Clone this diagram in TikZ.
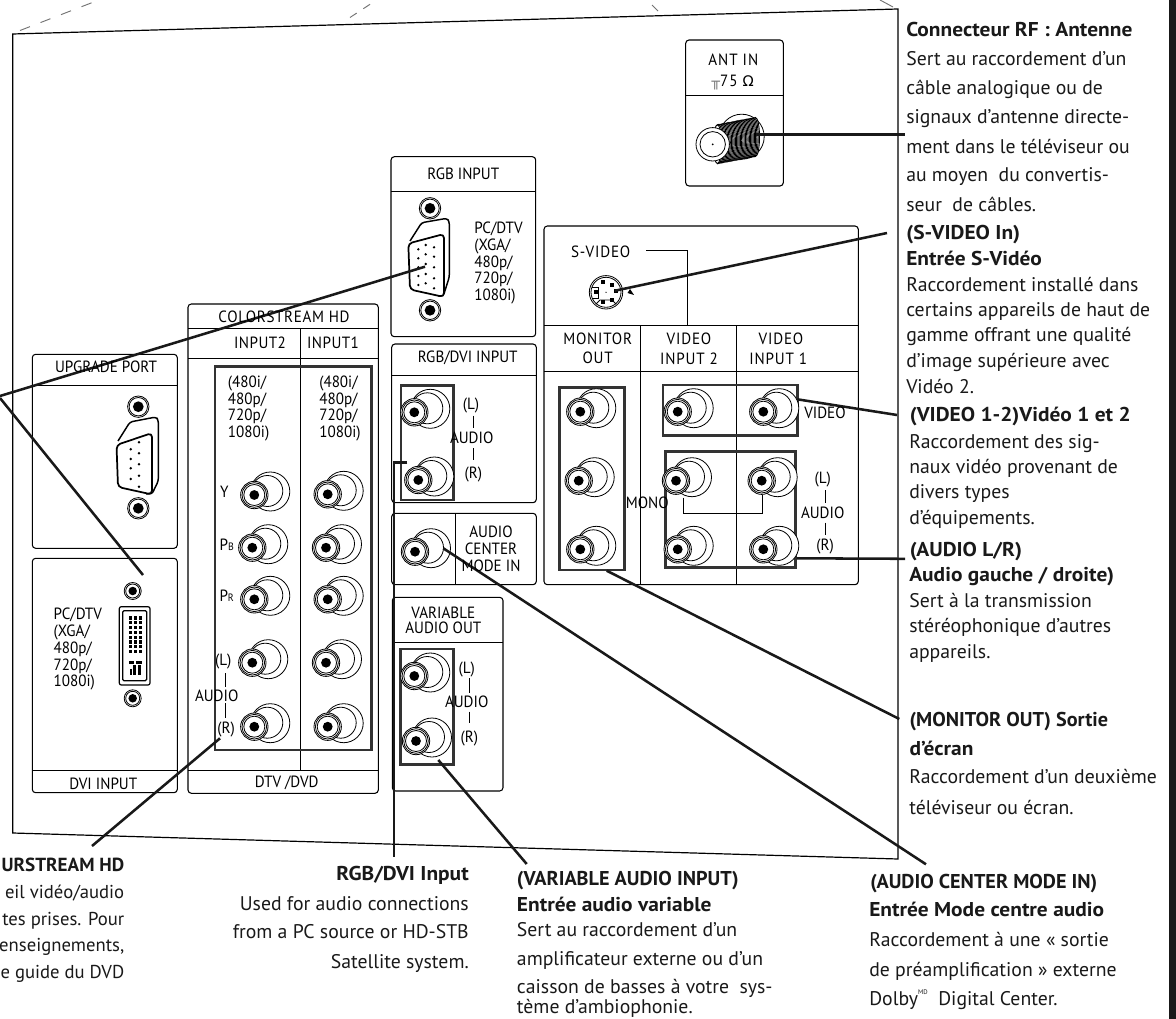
\documentclass[tikz,border=0pt]{standalone}
\usepackage{fontspec}
\setmainfont{PT Sans}
\newfontfamily\labff[FakeStretch=0.93]{PT Sans}
\newfontfamily\boldff[FakeStretch=1.07,BoldFont={PT Sans Bold}]{PT Sans}
\newfontfamily\boldcf[FakeStretch=1.01,BoldFont={PT Sans Bold}]{PT Sans}
\newfontfamily\symf{DejaVu Sans}
\newcommand\bodyfont{\fontsize{14.8}{16}\selectfont}
\newcommand\boldfont{\boldff\fontsize{15}{16}\selectfont\bfseries}
\newcommand\boldcaps{\boldcf\fontsize{15}{16}\selectfont\bfseries}
\newcommand\labfont{\labff\fontsize{12.2}{14}\selectfont}
\tikzset{
  panel/.style={draw=black,line width=0.8pt,rounded corners=2.5pt},
  thin/.style={draw=black,line width=0.75pt},
  thick box/.style={draw=black!80,line width=2pt},
  leader/.style={draw=black!90,line width=1.9pt},
  body/.style={anchor=base west,inner sep=0pt,font=\bodyfont,text=black!90},
  bodyr/.style={anchor=base east,inner sep=0pt,font=\bodyfont,text=black!90},
  bodyn/.style={anchor=base east,inner sep=0pt,font=\fontsize{14}{16}\selectfont,text=black!90},
  bold/.style={anchor=base west,inner sep=0pt,font=\boldfont,text=black!90},
  boldc/.style={anchor=base west,inner sep=0pt,font=\boldcaps,text=black!90},
  boldr/.style={anchor=base east,inner sep=0pt,font=\boldfont,text=black!90},
  boldn/.style={anchor=base east,inner sep=0pt,font=\boldcf\fontsize{14.2}{16}\selectfont\bfseries,text=black!90},
  lab/.style={anchor=center,inner sep=0pt,font=\labfont,text=black},
  labl/.style={anchor=base west,inner sep=0pt,font=\labfont,text=black},
  ring/.style={draw=black,line width=0.6pt,fill=white},
}
\newcommand\rca[2]{%
  \begin{scope}[shift={(#1,#2)}]
    \draw[ring] (16,-3.5) circle [radius=19.5];
    \draw[ring] (13,-4) circle [radius=15.5];
    \draw[ring] (0,0) circle [radius=13.7];
    \draw[ring] (0,0) circle [radius=12.3];
    \draw[ring] (0,0) circle [radius=10.5];
    \fill[black] (0,0) circle [radius=4.9];
  \end{scope}}
\newcommand\screw[3]{%
  \draw[ring] (#1,#2) circle [radius=#3];
  \draw[ring] (#1,#2) circle [radius=#3-1.5];
  \fill[black] (#1,#2) circle [radius=#3*0.5];}
\begin{document}
\begin{tikzpicture}[x=0.75pt,y=-0.75pt]
\useasboundingbox (0,0) rectangle (1176,1019);
\fill[white] (0,0) rectangle (1176,1019);
% black bar
\fill[black!90] (1168.5,0) rectangle (1176,1019);
% main panel
\draw[draw=black,line width=0.9pt] (12.7,34) -- (898,9) -- (898,859) -- (12.7,833) -- cycle;
% perspective dashes
\draw[draw=black!55,line width=0.7pt,dash pattern=on 8pt off 8.5pt] (20,30.5) -- (95,1.5);
\draw[draw=black!55,line width=0.7pt,dash pattern=on 6pt off 6pt] (350,17.5) -- (372,3);
\draw[draw=black!55,line width=0.7pt] (652,5) -- (658,11);
\draw[draw=black!55,line width=0.7pt] (880,0) -- (893,7);

% ---- ANT panel
\draw[panel] (685.7,40) rectangle (783.3,186);
\draw[thin] (685.7,96) -- (783.3,96);
\draw[ring] (741.7,136.7) circle [radius=22.5];
\foreach \i in {0,...,30}{
  \pgfmathsetmacro\cx{755.5-\i*1.27}
  \pgfmathsetmacro\cy{137+\i*0.24}
  \draw[draw=black,line width=0.7pt,fill=white] (\cx,\cy) ellipse [x radius=4,y radius=19.5];
}
\draw[ring] (712.7,144.3) circle [radius=16.7];
\draw[ring] (712.7,144.3) circle [radius=12.7];
\fill[black] (712.7,144.3) circle [radius=1];

% ---- UPGRADE panel
\draw[panel] (32.3,354.3) rectangle (177.3,548.3);
\draw[thin] (32.3,385) -- (177.3,385);
\screw{138.3}{406.7}{10.7}
\screw{138.3}{508.3}{10.7}
\draw[draw=black,line width=1.1pt,line join=round,rounded corners=2pt,fill=white]
  (118,441) -- (130,422) -- (156,417) -- (158.3,420) -- (158.3,481) -- (152,494) -- (146,494);
\draw[draw=black,line width=1.3pt,line join=round,rounded corners=3pt,fill=white]
  (116.5,445) -- (152,433) -- (152,494.5) -- (118,487) -- cycle;
\foreach \y in {442.3,453.3,464.3,475.7,486.7}{\fill[black] (139,\y) circle [radius=1.4];}
\foreach \y in {449.3,459,468.3,479}{\fill[black] (130.7,\y) circle [radius=1.4];}

% ---- DVI panel
\draw[panel] (32.3,558.3) rectangle (177.3,792.7);
\draw[thin] (32.3,770.3) -- (177.3,770.3);
\screw{132.7}{591}{8.5}
\screw{132.7}{698.3}{8.5}
\draw[draw=black,line width=0.9pt,rounded corners=1.5pt] (119.3,606.7) rectangle (150,685);
\draw[draw=black,line width=0.9pt,rounded corners=1pt] (122.7,610.7) rectangle (146.7,680.7);
\foreach \x in {130.7,135.7,140.3}{
  \foreach \y in {618,622.8,627.6,632.4,637.2,642,646.8,651.6}{
    \fill[black] (\x-1.6,\y-1.6) rectangle (\x+1.6,\y+1.6);}}
\fill[black] (129.3,661) rectangle (134,663.5);
\fill[black] (135.5,661) rectangle (142,663.5);
\fill[black] (133,665) rectangle (136,675);
\fill[black] (138,665) rectangle (141,675);
\fill[black] (130,669) rectangle (132,675);

% ---- COLORSTREAM panel
\draw[panel] (188,304) rectangle (378.3,793.3);
\draw[thin] (188,328.3) -- (378.3,328.3);
\draw[thin] (188,358.3) -- (378.3,358.3);
\draw[thin] (188,770.3) -- (378.3,770.3);
\draw[thin] (300,328.3) -- (300,770.3);
\draw[thick box] (215,366.7) rectangle (371.7,750);
\rca{254.3}{495}\rca{252.3}{547.7}\rca{254.3}{599.3}\rca{252.3}{662.7}\rca{254.3}{726.7}
\rca{327.7}{494.3}\rca{326}{547.7}\rca{327.7}{599.3}\rca{326}{662.7}\rca{327.7}{726.7}

% ---- RGB INPUT
\draw[panel] (391,156.7) rectangle (535.7,336.7);
\draw[thin] (391,191.7) -- (535.7,191.7);
\screw{430}{208.3}{10.7}
\screw{430}{310.3}{10.7}
\draw[draw=black,line width=1.1pt,line join=round,rounded corners=2pt,fill=white]
  (410,241) -- (421.7,222.7) -- (447,218.3) -- (449.3,221.7) -- (449.3,277) -- (443.3,296) -- (438,296);
\draw[draw=black,line width=1.3pt,line join=round,rounded corners=3pt,fill=white]
  (408.3,243.5) -- (444,234) -- (444,297) -- (410,289.5) -- cycle;
\foreach \p in {(418.3,249.3),(418.3,258.3),(418.3,267.3),(418.3,276),(418.3,285),
                (425.7,245),(425.7,254.3),(425.7,264),(425.7,274),(425.7,283.3),
                (434,247.3),(434,256.7),(434,267.3),(434,278.3),(434,288.3)}{
  \fill[black] \p circle [radius=1.3];}

% ---- RGB/DVI
\draw[panel] (391.7,344) rectangle (536.3,502.7);
\draw[thin] (391.7,375.7) -- (536.3,375.7);
\draw[thick box] (401,385.3) rectangle (453.3,500);
\rca{414.3}{412.3}\rca{418.3}{480}

% ---- AUDIO CENTER
\draw[panel] (391.7,513.3) rectangle (536.3,584.7);
\draw[thin] (455.3,513.3) -- (455.3,584.7);
\rca{415}{551.7}

% ---- VARIABLE
\draw[panel] (392.3,597.3) rectangle (503,791);
\draw[thin] (392.3,642.7) -- (503,642.7);
\draw[thick box] (400.7,649) rectangle (453.3,764.3);
\rca{414.3}{676}\rca{416}{741}

% ---- AV panel
\draw[panel] (544,226) rectangle (858.3,584.7);
\draw[thin] (544,325.3) -- (858.3,325.3);
\draw[thin] (544,371.7) -- (858.3,371.7);
\draw[thin] (640.3,325.3) -- (640.3,584.7);
\draw[thin] (736,325.3) -- (736,584.7);
\draw[thick box] (559.7,387.3) rectangle (624.7,570);
\draw[thick box] (663,385) rectangle (797.3,435.3);
\draw[thick box] (665.7,451.7) rectangle (795.7,567.3);
\rca{580.3}{411.7}\rca{578.7}{480.7}\rca{580.3}{549.3}
\rca{677.7}{411.7}\rca{763.3}{411.7}
\rca{676}{480.7}\rca{761.7}{480.7}\rca{677.7}{549.3}\rca{763.3}{549.3}
\draw[thin] (683.7,497.7) -- (683.7,513.3) -- (762.7,513.3) -- (762.7,495);
\draw[thin] (646,251) -- (687.3,251) -- (687.3,325.3);
% S-video jack
\draw[ring] (606,292.3) circle [radius=16.7];
\draw[ring] (606,292.3) circle [radius=15];
\draw[draw=black,line width=0.6pt] (591.5,287) -- (598,287) -- (598,298) -- (592,298);
\draw[draw=black,line width=0.6pt] (596,304) -- (600,300) -- (612,300) -- (616,304);
\foreach \p in {(603.3,282),(612.3,285),(595.7,292),(616,291.3),(603.3,301.7),(612.3,300)}{
  \fill[black] \p ++(-2,-2) rectangle ++(4,4);}
\fill[black] (606,292.3) circle [radius=0.7];
\fill[black] (630,289) -- (634,295) -- (627.5,293) -- cycle;

% ---- leader end points
\coordinate (antA) at (756,134.3); \coordinate (antB) at (905,134.3);
\coordinate (rgbA) at (425,266.7); \coordinate (rgbB) at (0,396);
\coordinate (dviA) at (143,575); \coordinate (dviB) at (0,398);
\coordinate (svA) at (615,290.7); \coordinate (svB) at (887,233);
\coordinate (csA) at (220,738.3); \coordinate (csB) at (92,846);
\coordinate (rdA) at (407.3,462.3); \coordinate (rdK) at (394,462.3); \coordinate (rdB) at (394,856.7);
\coordinate (varA) at (438.3,760); \coordinate (varB) at (526.7,864);
\coordinate (acA) at (443.3,548.3); \coordinate (acB) at (926,864.3);
\coordinate (monA) at (606.7,570.7); \coordinate (monB) at (899.3,719);
\coordinate (vidA) at (797.3,399.3); \coordinate (vidB) at (897,415);
\coordinate (audA) at (796.7,558.3); \coordinate (audB) at (905,558.8);
\draw[leader] (antA) -- (antB);
\draw[leader] (rgbA) -- (rgbB);
\draw[leader] (dviA) -- (dviB);
\draw[leader] (svA) -- (svB);
\draw[leader] (csA) -- (csB);
\draw[leader] (rdA) -- (rdK) -- (rdB);
\draw[leader] (varA) -- (varB);
\draw[leader] (acA) -- (acB);
\draw[leader] (monA) -- (monB);
\draw[leader] (vidA) -- (vidB);
\draw[leader] (audA) -- (audB);

% ---- panel labels
\node[lab] (l1) at (733.3,60) {\addfontfeature{LetterSpace=6}ANT IN};
\node[lab] (l2) at (732.7,82.7) {{\symf\fontsize{10.5}{10}\selectfont\color{black!50}╥}\addfontfeature{LetterSpace=6}75 {\symf\fontsize{11}{10}\selectfont Ω}};
\node[lab] (l3) at (284,316.7) {\addfontfeature{LetterSpace=4}COLORSTREAM HD};
\node[lab] (l4) at (260,343) {\addfontfeature{LetterSpace=3}INPUT2};
\node[lab] (l5) at (333,343) {\addfontfeature{LetterSpace=3}INPUT1};
\node[lab] (l6) at (106,367.3) {UPGRADE PORT};
\node[lab] (l7) at (103.3,784) {DVI INPUT};
\node[lab] (l8) at (286.7,782.7) {DTV /DVD};
\node[lab] (l9) at (463.3,174.3) {RGB INPUT};
\node[lab] (l10) at (467.7,358.3) {RGB/DVI INPUT};
\node[lab] (l11) at (491,532.3) {AUDIO};
\node[lab] (l12) at (491,549) {CENTER};
\node[lab] (l13) at (491,565.7) {MODE IN};
\node[lab] (l14) at (443.3,612.7) {VARIABLE};
\node[lab] (l15) at (443.3,628.3) {AUDIO OUT};
\node[lab] (l16) at (600.7,251.7) {\addfontfeature{LetterSpace=5}S-VIDEO};
\node[lab] (l17) at (597.7,339.3) {\addfontfeature{LetterSpace=5}MONITOR};
\node[lab] (l18) at (597.7,358.3) {\addfontfeature{LetterSpace=5}OUT};
\node[lab] (l19) at (689,339.3) {\addfontfeature{LetterSpace=5}VIDEO};
\node[lab] (l20) at (689,358.3) {\addfontfeature{LetterSpace=5}INPUT 2};
\node[lab] (l21) at (781,339.3) {\addfontfeature{LetterSpace=5}VIDEO};
\node[lab] (l22) at (778.3,358.3) {\addfontfeature{LetterSpace=5}INPUT 1};
\node[lab] (l23) at (825,413.3) {VIDEO};
\node[lab] (l24) at (647.3,503.3) {MONO};
% format lists
\node[labl] (f1) at (227.7,387.7) {(480i/};
\node[labl] (f2) at (227.7,404.3) {480p/};
\node[labl] (f3) at (227.7,420.7) {720p/};
\node[labl] (f4) at (227.7,437.3) {1080i)};
\node[labl] (g1) at (319,387.7) {(480i/};
\node[labl] (g2) at (319,404.3) {480p/};
\node[labl] (g3) at (319,420.7) {720p/};
\node[labl] (g4) at (319,437.3) {1080i)};
\node[labl] (h1) at (53.3,619.3) {PC/DTV};
\node[labl] (h2) at (53.3,636) {(XGA/};
\node[labl] (h3) at (53.3,653.3) {480p/};
\node[labl] (h4) at (53.3,670) {720p/};
\node[labl] (h5) at (53.3,686) {1080i)};
\node[labl] (i1) at (474,234) {PC/DTV};
\node[labl] (i2) at (474,250.7) {(XGA/};
\node[labl] (i3) at (474,267.3) {480p/};
\node[labl] (i4) at (474,284) {720p/};
\node[labl] (i5) at (474,300.7) {1080i)};
% Y Pb Pr
\node[lab] (y1) at (224.3,491.7) {Y};
\node[lab] (y2) at (226.7,545) {P{\fontsize{8}{8}\selectfont B}};
\node[lab] (y3) at (226.7,596) {P{\fontsize{8}{8}\selectfont R}};
% audio groups
\node[lab] (a1) at (223.3,661) {(L)};
\draw[thin] (225,673.3) -- (225,686.7);
\node[lab] (a2) at (216.7,695.7) {AUDIO};
\draw[thin] (225,703.3) -- (225,718.3);
\node[lab] (a3) at (226,729.3) {(R)};
\node[lab] (b1) at (471,405.7) {(L)};
\draw[thin] (473.7,415.7) -- (473.7,428.3);
\node[lab] (b2) at (471.7,438.3) {AUDIO};
\draw[thin] (473.7,448.3) -- (473.7,460);
\node[lab] (b3) at (473.3,474) {(R)};
\node[lab] (c1) at (466.7,669.3) {(L)};
\draw[thin] (469.3,678.3) -- (469.3,693.3);
\node[lab] (c2) at (466.7,702.3) {AUDIO};
\draw[thin] (469.3,711.7) -- (469.3,723.3);
\node[lab] (c3) at (469.3,738.3) {(R)};
\node[lab] (d1) at (822.7,479.3) {(L)};
\draw[thin] (825,490) -- (825,503.3);
\node[lab] (d2) at (822.7,513.3) {AUDIO};
\draw[thin] (825,522.7) -- (825,535);
\node[lab] (d3) at (825,546.7) {(R)};

% ---- right column
\node[bold] (r1) at (906,36.7) {Connecteur RF : Antenne};
\node[body] (r2) at (906,66) {Sert au raccordement d’un};
\node[body] (r3) at (906,94.5) {câble analogique ou de};
\node[body] (r4) at (906,124) {signaux d’antenne directe-};
\node[body] (r5) at (906,153.3) {ment dans le téléviseur ou};
\node[body] (r6) at (906,181.7) {au moyen\ \ du convertis-};
\node[body] (r7) at (906,211.7) {seur\ \ de câbles.};
\node[bold] (r8) at (906,240) {(S-VIDEO In)};
\node[bold] (r9) at (906,265.7) {Entrée S-Vidéo};
\node[body] (r10) at (906,291.7) {Raccordement installé dans};
\node[body] (r11) at (906,316.7) {certains appareils de haut de};
\node[body] (r12) at (906,341.7) {gamme offrant une qualité};
\node[body] (r13) at (906,367.7) {d’image supérieure avec};
\node[body] (r14) at (906,393.3) {Vidéo 2.};
\node[bold] (r15) at (909.5,421.7) {(VIDEO 1-2)Vidéo 1 et 2};
\node[body] (r16) at (909,448.3) {Raccordement des sig-};
\node[body] (r17) at (909,473.3) {naux vidéo provenant de};
\node[body] (r18) at (909,498.3) {divers types};
\node[body] (r19) at (909,524) {d’équipements.};
\node[bold] (r20) at (909.5,556) {(AUDIO L/R)};
\node[bold] (r21) at (909,581.7) {Audio gauche / droite)};
\node[body] (r22) at (909,607.3) {Sert à la transmission};
\node[body] (r23) at (909,632.7) {stéréophonique d’autres};
\node[body] (r24) at (909,658.3) {appareils.};
\node[boldc] (r25) at (909.3,726) {(MONITOR OUT) Sortie};
\node[bold] (r26) at (909.3,755) {d’écran};
\node[body] (r27) at (909,783.3) {Raccordement d’un deuxième};
\node[body] (r28) at (909,814) {téléviseur ou écran.};
% ---- bottom blocks
\node[boldc] (s1) at (870,888.3) {(AUDIO CENTER MODE IN)};
\node[bold] (s2) at (869,916.7) {Entrée Mode centre audio};
\node[body] (s3) at (869,946.7) {Raccordement à une « sortie};
\node[body] (s4) at (869,976) {de préamplification » externe};
\node[body] (s5) at (869,1005) {Dolby\raisebox{1.1ex}{\fontsize{5}{5}\selectfont MD}\ \ Digital Center.};
\node[boldc] (v1) at (516.7,885) {(VARIABLE AUDIO INPUT)};
\node[bold] (v2) at (516.7,911) {Entrée audio variable};
\node[body] (v3) at (516.7,936.7) {Sert au raccordement d’un};
\node[body] (v4) at (516.7,965) {amplificateur externe ou d’un};
\node[body] (v5) at (516.7,993.3) {caisson de basses à votre\ \ sys-};
\node[body] (v6) at (516.7,1013.5) {tème d’ambiophonie.};
\node[boldr] (u1) at (469,880) {RGB/DVI Input};
\node[bodyr] (u2) at (469,910) {Used for audio connections};
\node[bodyr] (u3) at (469,938.3) {from a PC source or HD-STB};
\node[bodyr] (u4) at (469,968.3) {Satellite system.};
\node[boldn] (w1) at (124.5,871) {URSTREAM HD};
\node[bodyn] (w2) at (124.5,898.3) {eil vidéo/audio};
\node[bodyn] (w3) at (124.5,925) {tes prises. Pour};
\node[bodyn] (w4) at (124.5,951) {enseignements,};
\node[bodyn] (w5) at (124.5,978) {e guide du DVD};
\end{tikzpicture}
\end{document}
